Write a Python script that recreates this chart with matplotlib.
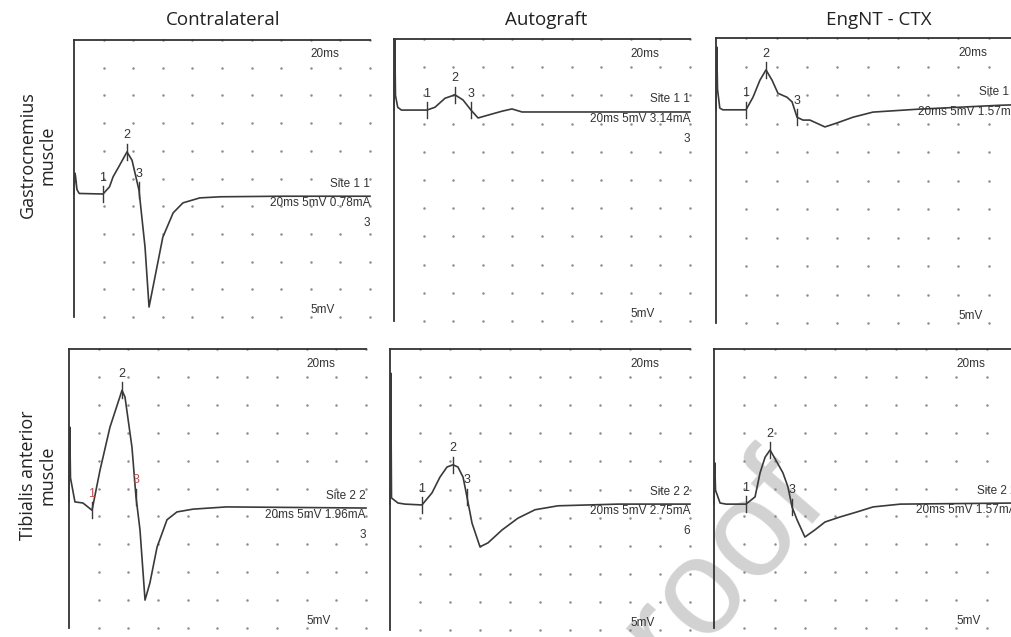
import numpy as np
import matplotlib
matplotlib.use("Agg")
import matplotlib.pyplot as plt

W, H = 1011, 637

col_titles = ["Contralateral", "Autograft", "EngNT - CTX"]
row_titles = ["Gastrocnemius\nmuscle", "Tibialis anterior\nmuscle"]

# traces: time in ms (20 ms sweep), amplitude in mV (5 mV/div)
gc_contra_t = [0.0, 0.05, 0.1, 0.2, 0.35, 1.96, 2.4, 2.64, 3.0, 3.58, 3.92, 4.39, 4.8, 5.07,
               5.47, 6.0, 6.7, 7.36, 8.5, 9.9, 14.0, 20.0]
gc_contra_v = [22.2, 26.0, 25.5, 23.0, 22.3, 22.2, 23.5, 25.3, 27.0, 29.8, 28.3, 22.9, 12.6, 1.8,
               7.2, 14.4, 18.8, 20.6, 21.5, 21.7, 21.8, 21.8]

gc_auto_t = [0.0, 0.05, 0.1, 0.25, 0.5, 2.23, 2.77, 3.45, 4.12, 4.66, 5.2, 5.68, 6.35, 7.3,
             7.97, 8.65, 20.0]
gc_auto_v = [37.4, 50.0, 40.0, 37.9, 37.4, 37.4, 37.9, 39.5, 40.1, 39.2, 37.4, 36.0, 36.5, 37.2,
             37.6, 37.06, 37.06]

gc_eng_t = [0.0, 0.05, 0.1, 0.25, 0.45, 1.98, 2.44, 2.9, 3.3, 3.7, 4.09, 4.69, 5.02, 5.35,
            5.74, 6.2, 7.19, 7.99, 9.04, 10.36, 13.27, 18.75, 20.0]
gc_eng_v = [37.4, 48.4, 41.0, 37.7, 37.4, 37.4, 39.6, 42.6, 44.4, 42.6, 40.3, 39.6, 38.8, 36.1,
            35.6, 35.6, 34.4, 35.1, 36.1, 37.0, 37.5, 38.2, 38.3]

ta_contra_t = [0.0, 0.05, 0.1, 0.4, 0.94, 1.55, 2.09, 2.76, 3.57, 3.77, 4.24, 4.51, 4.78, 5.12,
               5.45, 5.93, 6.6, 7.27, 8.35, 10.6, 20.0]
ta_contra_v = [22.6, 36.0, 26.9, 22.6, 22.4, 21.1, 28.3, 36.0, 42.6, 41.4, 32.4, 23.5, 17.6, 5.0,
               8.1, 14.5, 19.4, 20.8, 21.3, 21.7, 21.5]

ta_auto_t = [0.0, 0.05, 0.1, 0.53, 1.0, 2.13, 2.8, 3.33, 3.8, 4.2, 4.53, 4.87, 5.13, 5.47,
             6.0, 6.53, 7.47, 8.53, 9.67, 11.2, 15.2, 20.0]
ta_auto_v = [22.4, 45.7, 23.5, 22.6, 22.4, 22.25, 24.4, 27.2, 29.0, 29.4, 29.0, 27.2, 23.7, 19.0,
             14.8, 15.5, 17.8, 19.9, 21.4, 22.1, 22.4, 22.4]

ta_eng_t = [0.0, 0.05, 0.1, 0.4, 0.8, 2.11, 2.71, 3.04, 3.37, 3.7, 4.16, 4.55, 4.88, 5.15,
            5.48, 6.0, 6.67, 7.33, 8.32, 9.44, 10.5, 12.3, 20.0]
ta_eng_v = [22.2, 29.6, 24.7, 22.4, 22.2, 22.2, 23.5, 27.8, 30.6, 31.9, 29.7, 27.8, 25.3, 21.7,
            19.4, 16.3, 17.6, 19.0, 19.9, 20.8, 21.7, 22.2, 22.4]

# cursor positions (ms) for markers 1, 2, 3
gc_marks = [[1.96, 3.58, 4.39], [2.23, 4.12, 5.2], [1.98, 3.3, 5.35]]
ta_marks = [[1.55, 3.57, 4.51], [2.13, 4.2, 5.13], [2.11, 3.7, 5.15]]

gc_site = ["Site 1 1", "Site 1 1", "Site 1 1"]
ta_site = ["Site 2 2", "Site 2 2", "Site 2 2"]
gc_info = ["20ms 5mV 0.78mA", "20ms 5mV 3.14mA", "20ms 5mV 1.57mA"]
ta_info = ["20ms 5mV 1.96mA", "20ms 5mV 2.75mA", "20ms 5mV 1.57mA"]
gc_count = ["3", "3", ""]
ta_count = ["3", "6", ""]

traces = [[(gc_contra_t, gc_contra_v), (gc_auto_t, gc_auto_v), (gc_eng_t, gc_eng_v)],
          [(ta_contra_t, ta_contra_v), (ta_auto_t, ta_auto_v), (ta_eng_t, ta_eng_v)]]
marks = [gc_marks, ta_marks]
sites = [gc_site, ta_site]
infos = [gc_info, ta_info]
counts = [gc_count, ta_count]

# panel boxes in pixels: left, top, width, height
boxes = [[(74, 40, 296, 277), (394, 39, 296, 282), (716, 38, 303, 285)],
         [(69, 349, 297, 279), (390, 349, 300, 281), (714, 349, 303, 279)]]

trace_col = "#3a3a3a"
text_col = "#333333"
mark_cols = [[[text_col] * 3] * 3,
             [["#c0504d", text_col, "#c0504d"], [text_col] * 3, [text_col] * 3]]
label_font = ["Open Sans", "DejaVu Sans"]
scope_font = ["Liberation Sans", "DejaVu Sans"]
scope_size = 8.5

fig = plt.figure(figsize=(W / 100, H / 100), dpi=100)

for r in range(2):
    for c in range(3):
        left, top, w, h = boxes[r][c]
        ax = fig.add_axes([left / W, 1 - (top + h) / H, w / W, h / H])
        ax.patch.set_alpha(0)
        ax.set_xlim(0, 20)
        ax.set_ylim(0, 50)
        for s in ["right", "bottom"]:
            ax.spines[s].set_visible(False)
        for s in ["left", "top"]:
            ax.spines[s].set_color(text_col)
            ax.spines[s].set_linewidth(1.3)
        ax.set_xticks([])
        ax.set_yticks([])

        # screen dot grid, 2 ms x 5 mV
        gx, gy = np.meshgrid(np.arange(2, 21, 2), np.arange(0, 51, 5))
        ax.plot(gx.ravel(), gy.ravel(), ls="none", marker="o", ms=1.8,
                mec="none", mfc="#8c8c8c", clip_on=False, zorder=1)

        t, v = traces[r][c]
        ax.plot(t, v, color=trace_col, lw=1.2, clip_on=False, zorder=3)

        for i, m in enumerate(marks[r][c]):
            y = np.interp(m, t, v)
            ax.plot([m, m], [y - 1.4, y + 1.4], color=trace_col, lw=1.0, zorder=4)
            ax.annotate(str(i + 1), (m, y), xytext=(0, 7.5), textcoords="offset points",
                        ha="center", va="bottom", fontsize=9,
                        color=mark_cols[r][c][i], family=scope_font)

        base = v[-1]
        ax.annotate(sites[r][c], (20, base), xytext=(0, 9), textcoords="offset points",
                    ha="right", va="center", fontsize=scope_size, family=scope_font, color=text_col)
        ax.annotate(infos[r][c], (20, base), xytext=(0, -5), textcoords="offset points",
                    ha="right", va="center", fontsize=scope_size, family=scope_font, color=text_col)
        ax.annotate(counts[r][c], (20, base), xytext=(0, -19.5), textcoords="offset points",
                    ha="right", va="center", fontsize=scope_size, family=scope_font, color=text_col)
        ax.text(16, 47.4, "20ms", ha="left", va="center", fontsize=scope_size,
                family=scope_font, color=text_col)
        ax.text(16, 1.2, "5mV", ha="left", va="center", fontsize=scope_size,
                family=scope_font, color=text_col)

col_x = [223, 546, 879]
for c in range(3):
    fig.text(col_x[c] / W, 1 - 20 / H, col_titles[c], ha="center", va="center",
             fontsize=13.5, family=label_font, color="#222222")

row_y = [155, 475]
for r in range(2):
    fig.text(38 / W, 1 - row_y[r] / H, row_titles[r], ha="center", va="center",
             rotation=90, fontsize=13, family=label_font, color="#222222",
             multialignment="center", linespacing=1.1)

# light "proof" watermark of the source page (baseline starts below the figure)
fig.text(612 / W, 1 - 743 / H, "Proof", ha="left", va="baseline", rotation=49,
         rotation_mode="anchor", fontsize=99, family="Liberation Sans",
         color="#d2d2d2", zorder=-1)

fig.savefig("out.png", dpi=100, facecolor="white")
